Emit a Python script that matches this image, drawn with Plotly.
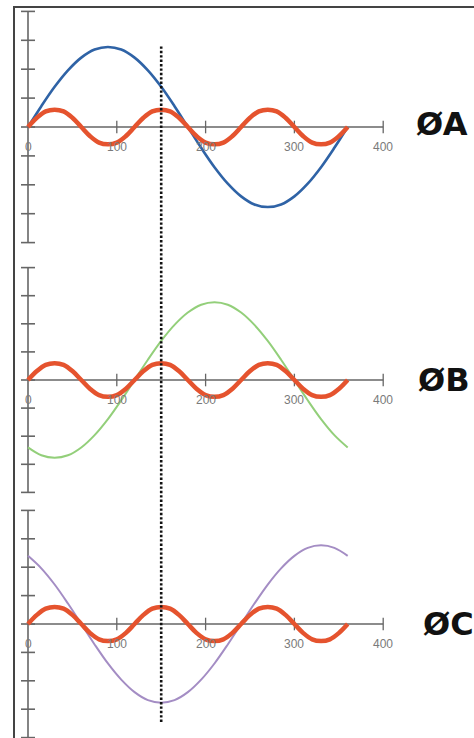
import plotly.graph_objects as go

# ---------------- data ----------------
ANGLES = [0, 15, 30, 45, 60, 75, 90, 105, 120, 135, 150, 165, 180,
          195, 210, 225, 240, 255, 270, 285, 300, 315, 330, 345, 360]
PHASE_A = [0, 0.72, 1.39, 1.96, 2.4, 2.68, 2.77, 2.68, 2.4, 1.96, 1.39, 0.72, 0,
           -0.72, -1.39, -1.96, -2.4, -2.68, -2.77, -2.68, -2.4, -1.96, -1.39, -0.72, 0]
PHASE_B = [-2.4, -2.68, -2.77, -2.68, -2.4, -1.96, -1.39, -0.72, 0, 0.72, 1.39, 1.96, 2.4,
           2.68, 2.77, 2.68, 2.4, 1.96, 1.39, 0.72, 0, -0.72, -1.39, -1.96, -2.4]
PHASE_C = [2.4, 1.96, 1.39, 0.72, 0, -0.72, -1.39, -1.96, -2.4, -2.68, -2.77, -2.68, -2.4,
           -1.96, -1.39, -0.72, 0, 0.72, 1.39, 1.96, 2.4, 2.68, 2.77, 2.68, 2.4]

H_ANGLES = [0, 10, 20, 30, 40, 50, 60, 70, 80, 90, 100, 110, 120,
            130, 140, 150, 160, 170, 180, 190, 200, 210, 220, 230, 240,
            250, 260, 270, 280, 290, 300, 310, 320, 330, 340, 350, 360]
HARMONIC = [0, 0.32, 0.54, 0.6, 0.54, 0.32, 0, -0.32, -0.54, -0.6, -0.54, -0.32, 0,
            0.32, 0.54, 0.6, 0.54, 0.32, 0, -0.32, -0.54, -0.6, -0.54, -0.32, 0,
            0.32, 0.54, 0.6, 0.54, 0.32, 0, -0.32, -0.54, -0.6, -0.54, -0.32, 0]

X_TICKS = [0, 100, 200, 300, 400]
X_TICK_LABELS = ["0", "100", "200", "300", "400"]
Y_TICKS = [-4, -3, -2, -1, 0, 1, 2, 3, 4]
MARKER_X = 150
PANEL_LABELS = ["ØA", "ØB", "ØC"]
PANEL_SERIES = [PHASE_A, PHASE_B, PHASE_C]
PANEL_COLORS = ["#2f63a6", "#93cf7a", "#a48dc4"]
PANEL_WIDTHS = [2.6, 2.0, 2.0]

# ---------------- layout geometry ----------------
W, H = 474, 738
X0_PX, X_SCALE = 28.0, 0.888
# (zero line px, px per unit, band top px, band bottom px)
PANELS = [(127, 28.9, 0, 255), (380, 28.1, 255, 500), (624, 28.4, 500, 738)]
LABEL_POS = [(414, 124), (416, 380), (421, 624)]
AXIS_COL = "#666666"
HARM_COL = "#e5532e"

fig = go.Figure()
layout = dict(
    width=W, height=H, margin=dict(l=0, r=0, t=0, b=0),
    paper_bgcolor="white", plot_bgcolor="white", showlegend=False,
)
xrange = [-X0_PX / X_SCALE, (W - X0_PX) / X_SCALE]
annotations = []
for i, (zero, s, top, bot) in enumerate(PANELS):
    n = "" if i == 0 else str(i + 1)
    xa, ya = "x" + n, "y" + n
    layout["xaxis" + n] = dict(range=xrange, visible=False, anchor=ya, domain=[0, 1], fixedrange=True)
    layout["yaxis" + n] = dict(range=[-(bot - zero) / s, (zero - top) / s], visible=False,
                               anchor=xa, domain=[1 - bot / H, 1 - top / H], fixedrange=True)
    # y axis with crossing ticks
    fig.add_trace(go.Scatter(x=[0] * len(Y_TICKS), y=Y_TICKS, mode="lines+markers", xaxis=xa, yaxis=ya,
                             line=dict(color=AXIS_COL, width=1.6), cliponaxis=False,
                             marker=dict(symbol="line-ew", size=10, line=dict(color=AXIS_COL, width=1.6))))
    # x axis
    fig.add_trace(go.Scatter(x=[X_TICKS[0], X_TICKS[-1]], y=[0, 0], mode="lines", xaxis=xa, yaxis=ya,
                             line=dict(color=AXIS_COL, width=1.4)))
    fig.add_trace(go.Scatter(x=X_TICKS[1:], y=[0] * (len(X_TICKS) - 1), mode="markers", xaxis=xa, yaxis=ya,
                             marker=dict(symbol="line-ns", size=9, line=dict(color=AXIS_COL, width=1.3))))
    # phase curve
    fig.add_trace(go.Scatter(x=ANGLES, y=PANEL_SERIES[i], mode="lines", xaxis=xa, yaxis=ya,
                             line=dict(color=PANEL_COLORS[i], width=PANEL_WIDTHS[i], shape="spline")))
    # harmonic
    fig.add_trace(go.Scatter(x=H_ANGLES, y=HARMONIC, mode="lines", xaxis=xa, yaxis=ya,
                             line=dict(color=HARM_COL, width=4.5, shape="spline")))
    for v, t in zip(X_TICKS, X_TICK_LABELS):
        annotations.append(dict(x=v, y=0, xref=xa, yref=ya, text=t, showarrow=False, yshift=-20,
                                font=dict(family="Liberation Sans, Arial", size=12, color="#7a7a7a")))
    lx, ly = LABEL_POS[i]
    annotations.append(dict(x=lx / W, y=1 - ly / H, xref="paper", yref="paper", text="<b>%s</b>" % PANEL_LABELS[i],
                            showarrow=False, xanchor="left", yanchor="middle",
                            font=dict(family="DejaVu Sans", size=32, color="#111111")))

layout["annotations"] = annotations
layout["shapes"] = [
    dict(type="rect", xref="paper", yref="paper", x0=14 / W, x1=1.2, y0=-0.2, y1=1 - 7 / H,
         line=dict(color="#444444", width=2), layer="below"),
    dict(type="line", xref="x", yref="paper", x0=MARKER_X, x1=MARKER_X, y0=1 - 722 / H, y1=1 - 45 / H,
         line=dict(color="#111111", width=2.6, dash="2.4px,2px"), layer="above"),
]
fig.update_layout(**layout)
fig.write_html("out.html", config={"displayModeBar": False},
               post_script="document.body.style.margin='0';document.body.style.overflow='hidden';")
